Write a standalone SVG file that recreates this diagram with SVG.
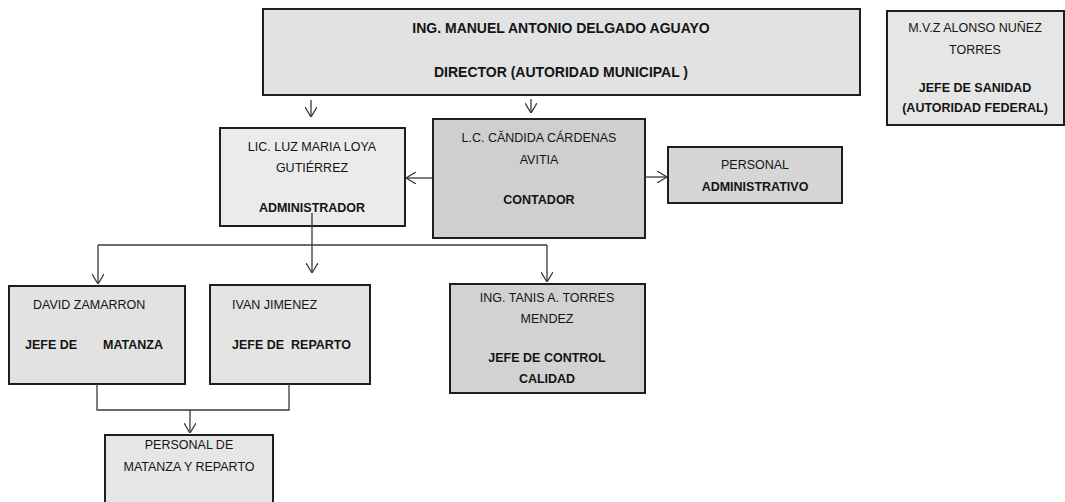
<svg xmlns="http://www.w3.org/2000/svg" width="1065" height="502" viewBox="0 0 1065 502">
  <style>
    .box { stroke: #1e1e1e; stroke-width: 2; }
    .t { font-family: "Liberation Sans", Arial, sans-serif; font-size: 12.5px; fill: #141414; text-anchor: middle; }
    .b { font-weight: bold; }
    .big { font-size: 14px; }
    .l { text-anchor: start; }
    .conn { fill: none; stroke: #3a3a3a; stroke-width: 1.3; }
  </style>
  <defs>
    <marker id="arr" viewBox="0 0 10 12" refX="10" refY="6" markerWidth="10" markerHeight="12" markerUnits="userSpaceOnUse" orient="auto">
      <path d="M0,0 L10,6 L0,12" fill="none" stroke="#3a3a3a" stroke-width="1.3"/>
    </marker>
  </defs>
  <rect width="1065" height="502" fill="#ffffff"/>

  <g id="director">
    <rect class="box" x="263" y="9" width="597" height="86" fill="#e2e2e2"/>
    <text class="t b big" x="561" y="33">ING. MANUEL ANTONIO DELGADO AGUAYO</text>
    <text class="t b big" x="561" y="77">DIRECTOR (AUTORIDAD MUNICIPAL )</text>
  </g>

  <g id="sanidad">
    <rect class="box" x="887" y="11" width="177" height="114" fill="#e6e6e6"/>
    <text class="t" x="975" y="32">M.V.Z ALONSO NUÑEZ</text>
    <text class="t" x="975" y="54">TORRES</text>
    <text class="t b" x="975" y="92">JEFE DE SANIDAD</text>
    <text class="t b" x="975" y="112">(AUTORIDAD FEDERAL)</text>
  </g>

  <g id="administrador">
    <rect class="box" x="220" y="128" width="185" height="98" fill="#ebebeb"/>
    <text class="t" x="312" y="151">LIC. LUZ MARIA LOYA</text>
    <text class="t" x="312" y="172">GUTIÉRREZ</text>
    <text class="t b" x="312" y="212">ADMINISTRADOR</text>
  </g>

  <g id="contador">
    <rect class="box" x="433" y="119" width="212" height="119" fill="#cfcfcf"/>
    <text class="t" x="539" y="142">L.C. CĂNDIDA CÁRDENAS</text>
    <text class="t" x="539" y="164">AVITIA</text>
    <text class="t b" x="539" y="204">CONTADOR</text>
  </g>

  <g id="personal-administrativo">
    <rect class="box" x="668" y="147" width="174" height="56" fill="#d6d6d6"/>
    <text class="t" x="755" y="169">PERSONAL</text>
    <text class="t b" x="755" y="191">ADMINISTRATIVO</text>
  </g>

  <g id="matanza">
    <rect class="box" x="9" y="286" width="176" height="98" fill="#e2e2e2"/>
    <text class="t l" x="33" y="309">DAVID ZAMARRON</text>
    <text class="t b l" x="25" y="349">JEFE DE</text>
    <text class="t b l" x="103" y="349">MATANZA</text>
  </g>

  <g id="reparto">
    <rect class="box" x="210" y="285" width="160" height="99" fill="#e4e4e4"/>
    <text class="t l" x="232" y="309">IVAN JIMENEZ</text>
    <text class="t b l" x="232" y="349" xml:space="preserve">JEFE DE  REPARTO</text>
  </g>

  <g id="calidad">
    <rect class="box" x="450" y="284" width="195" height="109" fill="#d2d2d2"/>
    <text class="t" x="547" y="302">ING. TANIS A. TORRES</text>
    <text class="t" x="547" y="323">MENDEZ</text>
    <text class="t b" x="547" y="362">JEFE DE CONTROL</text>
    <text class="t b" x="547" y="383">CALIDAD</text>
  </g>

  <g id="personal-matanza">
    <rect class="box" x="105" y="435" width="168" height="80" fill="#e6e6e6"/>
    <text class="t" x="189" y="449">PERSONAL DE</text>
    <text class="t" x="189" y="471">MATANZA Y REPARTO</text>
  </g>

  <g id="connectors">
    <path class="conn" d="M311,100 L311,117" marker-end="url(#arr)"/>
    <path class="conn" d="M531,99 L531,113" marker-end="url(#arr)"/>
    <path class="conn" d="M433,178 L406,178" marker-end="url(#arr)"/>
    <path class="conn" d="M645,177 L667,177" marker-end="url(#arr)"/>
    <path class="conn" d="M312,213 L312,245"/>
    <path class="conn" d="M98,245 L547,245"/>
    <path class="conn" d="M98,245 L98,284" marker-end="url(#arr)"/>
    <path class="conn" d="M312,245 L312,273" marker-end="url(#arr)"/>
    <path class="conn" d="M547,245 L547,282" marker-end="url(#arr)"/>
    <path class="conn" d="M97,384 L97,410 L289,410 L289,384"/>
    <path class="conn" d="M190,410 L190,433" marker-end="url(#arr)"/>
  </g>
</svg>
